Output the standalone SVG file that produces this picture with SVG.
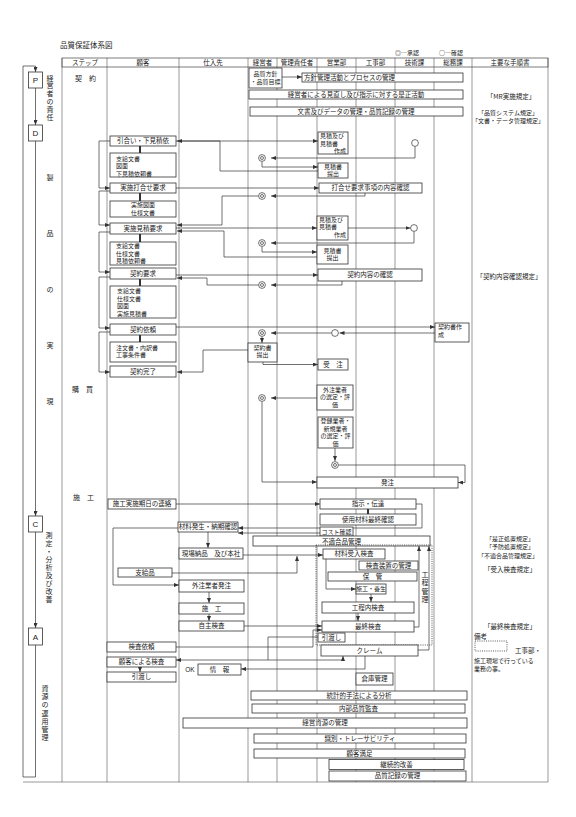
<svg xmlns="http://www.w3.org/2000/svg" width="576" height="817" viewBox="0 0 576 817">
<style>
.t{font-family:"Noto Sans CJK JP","Noto Sans CJK SC",sans-serif;font-size:6.5px;fill:#222}
.m{font-size:6px}
.c{text-anchor:middle}
.e{text-anchor:end}
.h{font-size:7px}
.hd{font-size:6.5px}
.v{writing-mode:vertical-rl;font-size:7px}
.L{font-family:"Liberation Sans",sans-serif;font-size:8px;fill:#222;text-anchor:middle}
.bx{fill:#fff;stroke:#333;stroke-width:0.8}
.ln{fill:none;stroke:#333;stroke-width:0.7}
.col{fill:none;stroke:#555;stroke-width:0.6}
.ar{marker-end:url(#ah)}
.th{fill:none;stroke:#333;stroke-width:2}
.dot{fill:none;stroke:#333;stroke-width:0.8;stroke-dasharray:1 1.2}
.ci{fill:#fff;stroke:#333;stroke-width:0.7}
</style>
<defs>
<marker id="ah" markerWidth="5" markerHeight="4" refX="5" refY="2" orient="auto" markerUnits="userSpaceOnUse"><path d="M0,0 L5,2 L0,4 z" fill="#333"/></marker>
<g id="dbl"><circle r="3.4" class="ci"/><circle r="1.5" class="ci"/></g>
</defs>
<rect width="576" height="817" fill="#fff"/>

<g id="title">
<text class="t" x="60" y="48" style="font-size:7.5px">品質保証体系図</text>
<text class="t m" x="395" y="55">◎…承認</text>
<text class="t m" x="439" y="55">○…確認</text>
</g>

<g id="table">
<rect x="62" y="58" width="486" height="9" fill="none" stroke="#444" stroke-width="0.7"/>
<path class="col" d="M62,58 V782 M107,58 V782 M179,58 V782 M248,58 V782 M277,58 V782 M317,58 V782 M356,58 V782 M395,58 V782 M434,58 V782 M472,58 V782 M548,58 V782 M23,782 H548"/>
<text class="t c hd" x="85" y="65.3">ステップ</text>
<text class="t c hd" x="143" y="65.3">顧客</text>
<text class="t c hd" x="213" y="65.3">仕入先</text>
<text class="t c hd" x="262.5" y="65.3">経営者</text>
<text class="t c hd" x="297" y="65.3">管理責任者</text>
<text class="t c hd" x="336.5" y="65.3">営業部</text>
<text class="t c hd" x="375.5" y="65.3">工事部</text>
<text class="t c hd" x="414.5" y="65.3">技術課</text>
<text class="t c hd" x="453" y="65.3">総務課</text>
<text class="t c hd" x="510" y="65.3">主要な手順書</text>
</g>

<g id="pdca-labels">
<text class="t v" x="50" y="74.5" style="letter-spacing:0.8px">経営者の責任</text>
<text class="t v" x="50" y="173.5" style="letter-spacing:49px">製品の実現</text>
<text class="t v" x="49" y="531.5" style="letter-spacing:1.1px">測定・分析及び改善</text>
<text class="t v" x="45" y="684.5" style="letter-spacing:1.3px">資源の運用管理</text>
</g>

<g id="steps">
<text class="t h" x="75" y="81">契　約</text>
<text class="t h" x="72" y="392">購　買</text>
<text class="t h" x="73" y="500">施　工</text>
</g>

<g id="manuals">
<text class="t c" x="511" y="99">「MR実施規定」</text>
<text class="t c m" x="508" y="114.5">「品質システム規定」</text>
<text class="t c m" x="508" y="122.5">「文書・データ管理規定」</text>
<text class="t c" x="509" y="279">「契約内容確認規定」</text>
<text class="t c m" x="510" y="540.5">「是正処置規定」</text>
<text class="t c m" x="510" y="548.5">「予防処置規定」</text>
<text class="t c m" x="508" y="557.5">「不適合品管理規定」</text>
<text class="t c" x="510" y="571.5">「受入検査規定」</text>
<text class="t c" x="510" y="628.5">「最終検査規定」</text>
<text class="t" x="474" y="639">備考</text>
<rect class="dot" x="475" y="641" width="32" height="10"/>
<text class="t" x="515" y="652.5">工事部・</text>
<text class="t m" x="474" y="662.5">施工現場で行っている</text>
<text class="t m" x="474" y="670.5">業務の事。</text>
</g>

<g id="connectors">
<path class="ln ar" d="M35.5,88 V125"/>
<path class="ln ar" d="M35.5,141 V516"/>
<path class="ln ar" d="M35.5,532 V628"/>
<path class="ln ar" d="M35.5,645 V777 H23 V66 H35.5 V72"/>
<path class="ln ar" d="M282,77 H302"/>
<path class="ln ar" d="M110,141 H99 V188 H110"/>
<path class="ln ar" d="M110,191 H99 V225 H110"/>
<path class="ln ar" d="M110,232 H99 V272 H110"/>
<path class="ln ar" d="M110,277 H99 V328 H110"/>
<path class="ln ar" d="M110,332 H99 V372 H110"/>
<path class="th" d="M140,146 V153 M140,193 V201 M140,234 V242 M140,279 V286 M140,335 V342 M368,509 V514"/>
<path class="ln ar" d="M176,141 H318"/>
<path class="ln ar" d="M318,171 H220 V141 H177"/>
<path class="ln ar" d="M415,146.4 V158 H271"/>
<path class="ln ar" d="M262,161.4 V167 H318"/>
<path class="ln ar" d="M176,188 H319"/>
<path class="ln ar" d="M365,193 V196 H271"/>
<path class="ln ar" d="M258.6,196 H222 V225 H177"/>
<path class="ln ar" d="M176,228 H317"/>
<path class="ln ar" d="M317,257 H224 V231 H177"/>
<path class="ln ar" d="M348,228 H410.5"/>
<path class="ln ar" d="M414,231.4 V243 H271"/>
<path class="ln ar" d="M262,246.4 V252 H317"/>
<path class="ln ar" d="M176,275 H318"/>
<path class="ln ar" d="M342,281 V285 H271"/>
<path class="ln ar" d="M258.6,285 H207 V278 H177"/>
<path class="ln ar" d="M176,327 H435"/>
<path class="ln ar" d="M435,333 H339.5"/>
<path class="ln ar" d="M331.6,333 H271"/>
<path class="ln ar" d="M262,336.4 V343"/>
<path class="ln ar" d="M248,350 H203 V372 H177"/>
<path class="ln ar" d="M263,362 V364.5 H318"/>
<path class="ln ar" d="M317,398 H271"/>
<path class="ln ar" d="M262,401.4 V482 H317"/>
<path class="ln ar" d="M335,448 V461"/>
<path class="ln ar" d="M338.4,465 H465 V482.5 H458"/>
<path class="ln ar" d="M176,504 H320"/>
<path class="ln ar" d="M416,504 H422 V528 H238"/>
<path class="ln ar" d="M320,533 H238"/>
<path class="ln ar" d="M208,532 V548"/>
<path class="ln ar" d="M178,528 H113 V585 H179"/>
<path class="ln ar" d="M243,555 H323"/>
<path class="ln ar" d="M172,573 H297 V556"/>
<path class="ln ar" d="M209,592 V603"/>
<path class="ln ar" d="M209,614 V621"/>
<path class="ln ar" d="M244,626 H322"/>
<path class="ln ar" d="M176,647 H313 V630 H322"/>
<path class="ln ar" d="M326,559 V589 H356"/>
<path class="ln ar" d="M371,594 V602"/>
<path class="ln ar" d="M358,613 V621"/>
<path class="ln ar" d="M414,627 H419 V546"/>
<path class="ln ar" d="M418,650 H429 V546"/>
<path class="ln ar" d="M318,637 H268 V660 H176"/>
<path class="ln ar" d="M268,660 H343 V656"/>
<path class="ln ar" d="M365,656 V669 H241"/>
<path class="ln ar" d="M140,667 V672"/>
</g>

<g id="marks">
<use href="#dbl" x="262" y="158"/>
<use href="#dbl" x="262" y="196"/>
<use href="#dbl" x="262" y="243"/>
<use href="#dbl" x="262" y="285"/>
<use href="#dbl" x="262" y="333"/>
<use href="#dbl" x="262" y="398"/>
<use href="#dbl" x="335" y="465"/>
<circle class="ci" cx="415" cy="143" r="3.4"/>
<circle class="ci" cx="414" cy="228" r="3.4"/>
<circle class="ci" cx="335" cy="333" r="3.4"/>
</g>

<g id="pdca">
<g id="n-P"><rect class="bx" x="28.5" y="72" width="14" height="16"/><text class="L" x="35.5" y="83">P</text></g>
<g id="n-D"><rect class="bx" x="28.5" y="125" width="14" height="16"/><text class="L" x="35.5" y="136">D</text></g>
<g id="n-C"><rect class="bx" x="28.5" y="516" width="14" height="16"/><text class="L" x="35.5" y="527">C</text></g>
<g id="n-A"><rect class="bx" x="28.5" y="628" width="14" height="17"/><text class="L" x="35.5" y="639.5">A</text></g>
</g>

<g id="n-policy"><rect class="bx" x="249" y="68" width="33" height="20"/><text class="t c m" x="265.5" y="76">品質方針</text><text class="t c m" x="265.5" y="84">・品質目標</text></g>
<g id="n-mgmt"><rect class="bx" x="302" y="73" width="161" height="9"/><text class="t" x="304" y="80">方針管理活動とプロセスの管理</text></g>
<g id="n-review"><rect class="bx" x="249" y="90" width="214" height="9"/><text class="t c" x="356" y="97">経営者による見直し及び指示に対する是正活動</text></g>
<g id="n-doc"><rect class="bx" x="250" y="107" width="213" height="9"/><text class="t c" x="356" y="114">文書及びデータの管理・品質記録の管理</text></g>

<g id="n-inquiry"><rect class="bx" x="110" y="136" width="66" height="10"/><text class="t c" x="143" y="143.3">引合い・下見積依</text></g>
<g id="n-docs1"><rect class="bx" x="110" y="153" width="66" height="24"/><text class="t m" x="116" y="160.5">支給文書</text><text class="t m" x="116" y="168">図面</text><text class="t m" x="116" y="175.5">下見積依頼書</text></g>
<g id="n-meetreq"><rect class="bx" x="110" y="183" width="66" height="10"/><text class="t c" x="143" y="190.3">実施打合せ要求</text></g>
<g id="n-docs2"><rect class="bx" x="110" y="201" width="66" height="16"/><text class="t c m" x="143" y="207.2">実施図面</text><text class="t c m" x="143" y="214.7">仕様文書</text></g>
<g id="n-estreq"><rect class="bx" x="110" y="223" width="66" height="11"/><text class="t c" x="143" y="230.8">実施見積要求</text></g>
<g id="n-docs3"><rect class="bx" x="110" y="242" width="66" height="23"/><text class="t m" x="116" y="248.3">支給文書</text><text class="t m" x="116" y="255.8">仕様文書</text><text class="t m" x="116" y="263.3">見積依頼書</text></g>
<g id="n-contreq"><rect class="bx" x="110" y="268" width="66" height="11"/><text class="t c" x="143" y="275.8">契約要求</text></g>
<g id="n-docs4"><rect class="bx" x="110" y="286" width="66" height="32"/><text class="t m" x="117" y="293.3">支給文書</text><text class="t m" x="117" y="300.8">仕様文書</text><text class="t m" x="117" y="308.3">図面</text><text class="t m" x="117" y="315.8">実施見積書</text></g>
<g id="n-contask"><rect class="bx" x="110" y="324" width="66" height="11"/><text class="t c" x="143" y="331.8">契約依頼</text></g>
<g id="n-docs5"><rect class="bx" x="110" y="342" width="66" height="20"/><text class="t m" x="116" y="349.5">注文書・内訳書</text><text class="t m" x="116" y="357">工事条件書</text></g>
<g id="n-contdone"><rect class="bx" x="110" y="366" width="66" height="11"/><text class="t c" x="143" y="373.8">契約完了</text></g>

<g id="n-est1"><rect class="bx" x="318" y="132" width="30" height="22"/><text class="t m" x="320" y="138">見積及び</text><text class="t m" x="320" y="145.5">見積書</text><text class="t e m" x="346" y="153">作成</text></g>
<g id="n-sub1"><rect class="bx" x="318" y="163" width="30" height="15"/><text class="t c m" x="333" y="168.8">見積書</text><text class="t c m" x="333" y="176.3">提出</text></g>
<g id="n-meetcheck"><rect class="bx" x="319" y="183" width="103" height="10"/><text class="t c" x="370.5" y="190.3">打合せ要求事項の内容確認</text></g>
<g id="n-est2"><rect class="bx" x="317" y="216" width="31" height="24"/><text class="t m" x="319" y="221.5">見積及び</text><text class="t m" x="319" y="229">見積書</text><text class="t e m" x="346" y="236.5">作成</text></g>
<g id="n-sub2"><rect class="bx" x="317" y="245" width="31" height="19"/><text class="t c m" x="332.5" y="252.5">見積書</text><text class="t c m" x="332.5" y="260">提出</text></g>
<g id="n-contcheck"><rect class="bx" x="318" y="269" width="104" height="12"/><text class="t c" x="370" y="277.3">契約内容の確認</text></g>
<g id="n-contmake"><rect class="bx" x="435" y="323" width="34" height="19"/><text class="t m" x="438" y="329.2">契約書作</text><text class="t m" x="438" y="336.7">成</text></g>
<g id="n-contsub"><rect class="bx" x="248" y="343" width="29" height="19"/><text class="t c m" x="262.5" y="349.5">契約書</text><text class="t c m" x="262.5" y="357">提出</text></g>
<g id="n-order"><rect class="bx" x="318" y="359" width="30" height="11"/><text class="t c" x="333" y="366.8">受　注</text></g>
<g id="n-subsel"><rect class="bx" x="317" y="385" width="36" height="25"/><text class="t c m" x="335" y="391.6">外注業者</text><text class="t c m" x="335" y="399.1">の選定・評</text><text class="t c m" x="335" y="406.6">価</text></g>
<g id="n-regsel"><rect class="bx" x="318" y="417" width="35" height="31"/><text class="t c m" x="335.5" y="423">登録業者・</text><text class="t c m" x="335.5" y="430.5">新規業者</text><text class="t c m" x="335.5" y="438">の選定・評</text><text class="t c m" x="335.5" y="445.5">価</text></g>
<g id="n-purchase"><rect class="bx" x="317" y="477" width="141" height="11"/><text class="t c" x="387.5" y="484.8">発注</text></g>

<g id="n-schedule"><rect class="bx" x="108" y="499" width="68" height="10"/><text class="t c" x="142" y="506.3">施工実施期日の連絡</text></g>
<g id="n-instruct"><rect class="bx" x="320" y="499" width="96" height="10"/><text class="t c" x="368" y="506.3">指示・伝達</text></g>
<g id="n-matcheck"><rect class="bx" x="320" y="514" width="96" height="11"/><text class="t c" x="368" y="521.8">使用材料最終確認</text></g>
<g id="n-cost"><rect class="bx" x="320" y="527" width="33" height="9"/><text class="t c m" x="336.5" y="533.6">コスト確認</text></g>
<g id="n-matorder"><rect class="bx" x="178" y="522" width="60" height="10"/><text class="t c" x="208" y="529.3">材料発生・納期確認</text></g>
<g id="n-nonconf"><rect class="bx" x="253" y="536" width="177" height="10"/><text class="t c" x="341.5" y="543.5">不適合品管理</text></g>
<g id="n-delivery"><rect class="bx" x="179" y="548" width="64" height="11"/><text class="t c" x="211" y="555.8">現場納品　及び本社</text></g>
<g id="n-supplied"><rect class="bx" x="118" y="568" width="54" height="9"/><text class="t c" x="145" y="574.8">支給品</text></g>
<g id="n-suborder"><rect class="bx" x="179" y="580" width="65" height="12"/><text class="t c" x="211.5" y="588.3">外注業者発注</text></g>
<g id="n-construct"><rect class="bx" x="179" y="603" width="65" height="11"/><text class="t c" x="211.5" y="610.8">施　工</text></g>
<g id="n-selfinsp"><rect class="bx" x="179" y="621" width="65" height="10"/><text class="t c" x="211.5" y="628.3">自主検査</text></g>
<g id="n-inspreq"><rect class="bx" x="107" y="642" width="69" height="10"/><text class="t c" x="141.5" y="649.3">検査依頼</text></g>
<g id="n-custinsp"><rect class="bx" x="107" y="657" width="69" height="10"/><text class="t c" x="141.5" y="664.3">顧客による検査</text></g>
<g id="n-ok"><text class="L" x="190" y="672" style="font-size:6.5px">OK</text></g>
<g id="n-info"><rect class="bx" x="198" y="664" width="43" height="11"/><text class="t c" x="219.5" y="671.8">情　報</text></g>
<g id="n-handover1"><rect class="bx" x="107" y="672" width="69" height="10"/><text class="t c" x="141.5" y="679.3">引渡し</text></g>

<g id="n-site">
<rect class="dot" x="316" y="545" width="116" height="100"/>
<text class="t v" x="425" y="570.5" style="letter-spacing:1.5px">工程管理</text>
</g>
<g id="n-recv"><rect class="bx" x="323" y="549" width="62" height="10"/><text class="t c" x="354" y="556.3">材料受入検査</text></g>
<g id="n-device"><rect class="bx" x="359" y="561" width="59" height="9"/><text class="t c" x="388.5" y="567.8">検査装置の管理</text></g>
<g id="n-store"><rect class="bx" x="328" y="572" width="89" height="9"/><text class="t c" x="372.5" y="578.8">保　管</text></g>
<g id="n-cure"><rect class="bx" x="356" y="584" width="30" height="10"/><text class="t c" x="371" y="591.2" style="font-size:6px">施工・養生</text></g>
<g id="n-inproc"><rect class="bx" x="322" y="602" width="92" height="11"/><text class="t c" x="368" y="609.8">工程内検査</text></g>
<g id="n-final"><rect class="bx" x="322" y="621" width="92" height="11"/><text class="t c" x="368" y="628.8">最終検査</text></g>
<g id="n-handover2"><rect class="bx" x="318" y="633" width="27" height="9"/><text class="t c" x="331.5" y="639.8">引渡し</text></g>
<g id="n-claim"><rect class="bx" x="321" y="645" width="97" height="11"/><text class="t c" x="369.5" y="652.8">クレーム</text></g>
<g id="n-warehouse"><rect class="bx" x="356" y="673" width="37" height="12"/><text class="t c" x="374.5" y="681.3">倉庫管理</text></g>

<g id="n-stat"><rect class="bx" x="251" y="691" width="216" height="9"/><text class="t c" x="359" y="697.8">統計的手法による分析</text></g>
<g id="n-audit"><rect class="bx" x="252" y="704" width="213" height="9"/><text class="t c" x="358.5" y="710.8">内部品質監査</text></g>
<g id="n-resource"><rect class="bx" x="183" y="718" width="284" height="10"/><text class="t c" x="325" y="725.3">経営資源の管理</text></g>
<g id="n-trace"><rect class="bx" x="254" y="734" width="212" height="9"/><text class="t c" x="360" y="740.8">識別・トレーサビリティ</text></g>
<g id="n-satisfy"><rect class="bx" x="254" y="749" width="211" height="9"/><text class="t c" x="359.5" y="755.8">顧客満足</text></g>
<g id="n-improve"><rect class="bx" x="329" y="759.5" width="135" height="10"/><text class="t c" x="396.5" y="766.8">継続的改善</text></g>
<g id="n-records"><rect class="bx" x="329" y="771" width="137" height="10"/><text class="t c" x="397.5" y="778.3">品質記録の管理</text></g>
</svg>
